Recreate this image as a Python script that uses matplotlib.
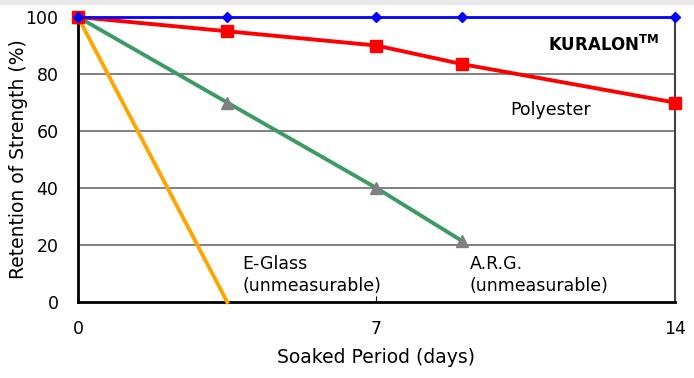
import matplotlib.pyplot as plt
from matplotlib.patches import Rectangle

# data
kuralon_days = [0, 3.5, 7, 9, 14]
kuralon_ret = [100, 100, 100, 100, 100]

polyester_days = [0, 3.5, 7, 9, 14]
polyester_ret = [100, 95, 90, 83.5, 70]

arg_days = [0, 3.5, 7, 9]
arg_ret = [100, 70, 40, 21.5]

eglass_days = [0, 3.5]
eglass_ret = [100, 0]

x_ticks = [0, 7, 14]
y_ticks = [0, 20, 40, 60, 80, 100]

plt.rcParams['font.family'] = ['DejaVu Sans']

fig = plt.figure(figsize=(6.94, 3.78), dpi=100)
fig.patches.append(Rectangle((0, 0.99), 1, 0.01, transform=fig.transFigure,
                             color="#e8e8e8", zorder=0))
ax = fig.add_axes([0.1124, 0.201, 0.860, 0.754])

# gridlines
for y in y_ticks[1:-1]:
    ax.axhline(y, color="#808080", lw=1.4, zorder=1)

ax.plot(eglass_days, eglass_ret, color="#ffa500", lw=2.8, zorder=3, clip_on=False)
ax.plot(arg_days, arg_ret, color="#3c9a64", lw=2.8, marker="^", markersize=8,
        markerfacecolor="#808080", markeredgecolor="#808080", zorder=4, clip_on=False)
ax.plot(polyester_days, polyester_ret, color="#ff0000", lw=2.8, marker="s", markersize=8,
        zorder=5, clip_on=False)
ax.plot(kuralon_days, kuralon_ret, color="#0000ff", lw=2, marker="D", markersize=5.5,
        zorder=6, clip_on=False)

ax.set_xlim(0, 14)
ax.set_ylim(0, 100)
ax.set_xticks(x_ticks)
ax.set_yticks(y_ticks)
ax.tick_params(axis="y", length=0, pad=14, labelsize=12.5)
ax.tick_params(axis="x", length=4, direction="in", pad=13, labelsize=12.5)

for s in ["left", "bottom"]:
    ax.spines[s].set_linewidth(2)
    ax.spines[s].set_color("black")
ax.spines["right"].set_linewidth(1.5)
ax.spines["right"].set_color("#404040")
ax.spines["top"].set_visible(False)

ax.set_xlabel("Soaked Period (days)", fontsize=13.5)
ax.set_ylabel("Retention of Strength (%)", fontsize=13.5)
ax.xaxis.set_label_coords(0.5, -0.162)
ax.yaxis.set_label_coords(-0.084, 0.5)

ax.text(13.65, 90.2, "KURALON$^{\\mathregular{TM}}$", ha="right", va="center",
        fontsize=12, fontweight="bold")
ax.text(10.13, 67.4, "Polyester", ha="left", va="center", fontsize=12.5)
ax.text(3.85, 9.5, "E-Glass\n(unmeasurable)", ha="left", va="center", fontsize=12.5,
        linespacing=1.25)
ax.text(9.19, 9.5, "A.R.G.\n(unmeasurable)", ha="left", va="center", fontsize=12.5,
        linespacing=1.25)

fig.savefig("out.png", dpi=100)
